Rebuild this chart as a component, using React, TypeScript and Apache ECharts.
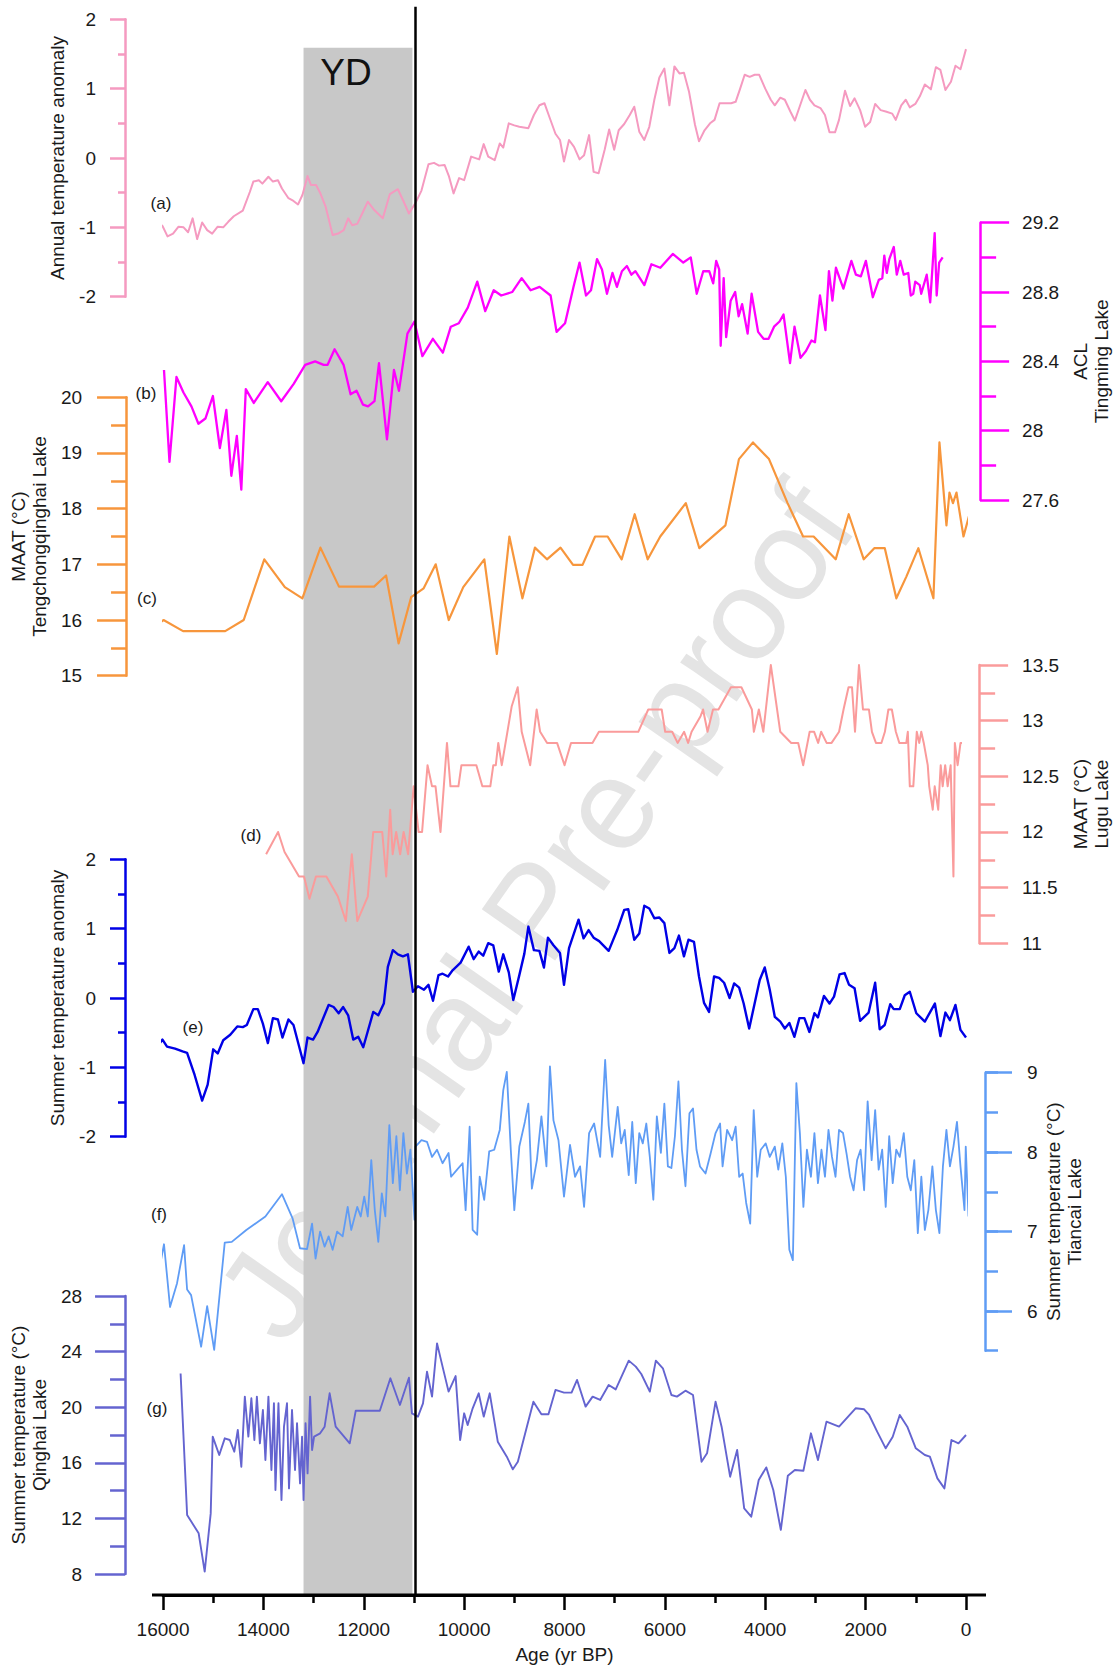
import React, { useEffect, useRef } from "react";
import * as echarts from "echarts";

const FONT = "'Liberation Sans', Arial, Helvetica, sans-serif";

// ---- data: [age yr BP, value] ----
const seriesA: number[][] = [[16120,-0.92],[16010,-0.98],[15910,-1.13],[15800,-1.09],[15690,-0.99],[15590,-1.00],[15500,-1.07],[15410,-0.87],[15320,-1.17],[15220,-0.93],[15120,-1.04],[15020,-1.09],[14910,-0.99],[14800,-1.00],[14700,-0.92],[14590,-0.84],[14410,-0.76],[14270,-0.49],[14200,-0.34],[14090,-0.32],[14020,-0.37],[13900,-0.27],[13810,-0.34],[13710,-0.32],[13630,-0.44],[13500,-0.58],[13400,-0.62],[13310,-0.67],[13220,-0.53],[13120,-0.26],[13050,-0.39],[12950,-0.39],[12870,-0.50],[12760,-0.70],[12620,-1.11],[12510,-1.09],[12400,-1.04],[12310,-0.87],[12230,-0.97],[12130,-0.95],[12030,-0.80],[11920,-0.63],[11790,-0.75],[11620,-0.87],[11480,-0.52],[11320,-0.45],[11210,-0.62],[11100,-0.80],[10970,-0.65],[10850,-0.47],[10710,-0.09],[10600,-0.07],[10500,-0.11],[10390,-0.10],[10300,-0.27],[10210,-0.51],[10100,-0.29],[10000,-0.32],[9860,0.02],[9700,-0.02],[9610,0.20],[9520,0.02],[9390,-0.03],[9290,0.21],[9220,0.15],[9110,0.50],[9000,0.47],[8900,0.45],[8720,0.43],[8610,0.62],[8500,0.76],[8400,0.79],[8290,0.57],[8180,0.35],[8090,0.26],[8010,-0.05],[7910,0.26],[7810,0.16],[7700,-0.02],[7610,0.04],[7510,0.33],[7420,-0.20],[7320,-0.22],[7200,0.12],[7110,0.41],[7010,0.12],[6920,0.40],[6810,0.49],[6700,0.62],[6610,0.74],[6510,0.38],[6410,0.26],[6310,0.45],[6210,0.84],[6110,1.16],[6010,1.29],[5910,0.76],[5810,1.32],[5710,1.22],[5620,1.23],[5520,0.96],[5400,0.48],[5320,0.24],[5210,0.40],[5100,0.50],[5010,0.55],[4910,0.79],[4780,0.79],[4680,0.79],[4590,0.81],[4500,1.00],[4410,1.20],[4310,1.17],[4210,1.20],[4120,1.20],[4000,1.00],[3890,0.84],[3810,0.76],[3700,0.87],[3610,0.84],[3500,0.67],[3410,0.54],[3310,0.75],[3200,0.98],[3110,0.84],[3020,0.76],[2900,0.72],[2810,0.62],[2720,0.37],[2610,0.37],[2530,0.55],[2410,0.97],[2310,0.75],[2220,0.86],[2110,0.69],[2010,0.45],[1910,0.52],[1810,0.78],[1700,0.69],[1600,0.67],[1470,0.64],[1400,0.55],[1290,0.76],[1200,0.84],[1120,0.73],[1010,0.78],[920,0.89],[820,1.06],[700,0.99],[600,1.31],[510,1.27],[410,0.98],[300,1.10],[210,1.33],[110,1.28],[0,1.57]];

const seriesB: number[][] = [[15980,28.35],[15870,27.82],[15730,28.31],[15590,28.22],[15430,28.14],[15290,28.04],[15150,28.07],[15000,28.20],[14860,27.90],[14730,28.12],[14630,27.74],[14520,27.97],[14430,27.66],[14340,28.24],[14180,28.16],[13900,28.28],[13630,28.17],[13380,28.27],[13150,28.38],[12950,28.40],[12780,28.38],[12700,28.38],[12560,28.47],[12380,28.38],[12240,28.21],[12120,28.23],[11990,28.15],[11890,28.14],[11760,28.17],[11670,28.39],[11510,27.95],[11370,28.35],[11270,28.23],[11100,28.56],[10960,28.63],[10800,28.43],[10590,28.53],[10390,28.45],[10230,28.60],[10070,28.62],[9890,28.71],[9700,28.86],[9540,28.69],[9370,28.81],[9220,28.78],[9000,28.80],[8810,28.88],[8630,28.81],[8450,28.83],[8230,28.78],[8110,28.57],[7940,28.62],[7770,28.83],[7650,28.97],[7520,28.78],[7420,28.81],[7300,28.99],[7200,28.93],[7100,28.79],[6990,28.91],[6900,28.83],[6800,28.92],[6700,28.95],[6610,28.90],[6530,28.92],[6350,28.84],[6210,28.96],[6030,28.94],[5780,29.02],[5570,28.97],[5420,29.00],[5300,28.79],[5170,28.92],[5050,28.92],[4970,28.85],[4910,28.98],[4850,28.93],[4820,28.49],[4760,28.88],[4710,28.54],[4620,28.75],[4530,28.80],[4460,28.66],[4390,28.73],[4280,28.56],[4200,28.79],[4070,28.57],[3960,28.53],[3860,28.53],[3750,28.60],[3640,28.63],[3560,28.67],[3430,28.39],[3340,28.60],[3220,28.42],[3110,28.46],[3000,28.52],[2930,28.51],[2830,28.78],[2720,28.58],[2650,28.92],[2580,28.75],[2510,28.94],[2360,28.82],[2200,28.98],[2110,28.90],[2010,28.89],[1910,28.98],[1770,28.77],[1650,28.87],[1580,28.88],[1540,29.01],[1490,28.91],[1440,28.99],[1350,29.06],[1290,28.90],[1220,28.98],[1150,28.90],[1060,28.91],[1010,28.78],[960,28.79],[920,28.86],[830,28.84],[800,28.79],[690,28.90],[620,28.74],[530,29.14],[490,28.78],[440,28.97],[370,29.00]];

const seriesC: number[][] = [[16310,15.79],[16010,16.00],[15620,15.80],[14780,15.80],[14410,16.00],[14000,17.09],[13590,16.59],[13240,16.39],[12880,17.30],[12510,16.60],[11810,16.60],[11570,16.80],[11320,15.58],[11070,16.41],[10820,16.57],[10580,17.00],[10320,16.00],[10030,16.59],[9610,17.09],[9360,15.39],[9110,17.50],[8850,16.39],[8600,17.30],[8360,17.09],[8090,17.30],[7840,16.99],[7650,16.99],[7400,17.50],[7150,17.50],[6870,17.09],[6610,17.90],[6350,17.09],[6100,17.50],[5590,18.10],[5320,17.29],[4800,17.70],[4530,18.89],[4250,19.19],[3930,18.89],[3560,18.10],[3250,17.50],[3040,17.50],[2600,17.09],[2340,17.90],[2040,17.09],[1830,17.29],[1620,17.29],[1390,16.39],[1190,16.78],[950,17.29],[650,16.39],[530,19.19],[390,17.70],[330,18.29],[260,18.10],[190,18.29],[50,17.50],[-70,17.90]];

const seriesD: number[][] = [[13930,11.80],[13690,12.00],[13560,11.82],[13270,11.60],[13170,11.60],[13060,11.40],[12930,11.60],[12720,11.60],[12490,11.42],[12330,11.20],[12210,11.80],[12100,11.20],[11890,11.42],[11780,12.00],[11600,12.00],[11520,11.60],[11440,12.20],[11390,11.80],[11320,12.00],[11240,11.80],[11170,12.00],[11080,11.80],[10970,12.41],[10870,12.00],[10800,12.00],[10690,12.60],[10600,12.41],[10530,12.41],[10430,12.00],[10300,12.80],[10230,12.41],[10070,12.41],[10010,12.60],[9710,12.60],[9590,12.41],[9430,12.41],[9370,12.60],[9320,12.60],[9270,12.80],[9200,12.60],[9000,13.13],[8880,13.30],[8800,12.90],[8630,12.60],[8500,13.10],[8430,12.90],[8290,12.80],[8090,12.80],[7940,12.60],[7810,12.80],[7380,12.80],[7250,12.90],[6460,12.90],[6260,13.10],[5990,13.10],[5920,12.90],[5780,12.90],[5670,12.80],[5540,12.90],[5460,12.80],[5390,12.90],[5210,13.04],[5160,13.10],[5070,12.90],[4960,13.10],[4850,13.10],[4600,13.30],[4390,13.30],[4180,13.10],[4140,12.90],[4040,13.10],[3950,12.90],[3800,13.50],[3610,12.90],[3390,12.80],[3250,12.80],[3150,12.60],[3020,12.90],[2930,12.90],[2850,12.80],[2790,12.90],[2680,12.80],[2580,12.80],[2430,12.90],[2340,13.10],[2240,13.30],[2170,13.30],[2110,12.90],[2030,13.50],[1950,13.10],[1830,13.10],[1770,12.90],[1690,12.80],[1580,12.80],[1510,12.90],[1440,13.10],[1370,13.10],[1290,12.90],[1220,12.80],[1080,12.80],[1050,12.90],[1010,12.41],[940,12.41],[870,12.90],[820,12.80],[780,12.90],[730,12.80],[650,12.60],[620,12.41],[550,12.20],[510,12.41],[440,12.20],[390,12.60],[350,12.41],[300,12.60],[250,12.41],[190,12.60],[134,11.60],[106,12.80],[50,12.60],[-8,12.80],[-58,12.80]];

const seriesE: number[][] = [[16120,-0.70],[16010,-0.60],[15920,-0.70],[15760,-0.73],[15610,-0.77],[15520,-0.79],[15370,-1.11],[15220,-1.48],[15110,-1.25],[15000,-0.74],[14910,-0.80],[14800,-0.61],[14660,-0.53],[14520,-0.41],[14410,-0.42],[14330,-0.39],[14200,-0.16],[14110,-0.16],[14010,-0.37],[13910,-0.65],[13810,-0.29],[13710,-0.31],[13620,-0.57],[13500,-0.31],[13400,-0.39],[13200,-0.94],[13120,-0.57],[13010,-0.60],[12920,-0.49],[12700,-0.10],[12600,-0.13],[12500,-0.22],[12410,-0.13],[12310,-0.25],[12210,-0.60],[12110,-0.56],[12010,-0.71],[11810,-0.20],[11710,-0.25],[11600,-0.08],[11520,0.45],[11420,0.69],[11320,0.63],[11220,0.60],[11120,0.63],[11020,0.09],[10920,0.17],[10800,0.12],[10710,0.19],[10620,-0.04],[10510,0.33],[10430,0.35],[10320,0.31],[10230,0.40],[10070,0.51],[9910,0.74],[9810,0.56],[9710,0.67],[9620,0.61],[9520,0.79],[9420,0.76],[9310,0.38],[9220,0.63],[9110,0.37],[9020,-0.03],[8900,0.33],[8800,0.64],[8720,1.03],[8610,0.69],[8500,0.68],[8410,0.44],[8330,0.87],[8220,0.76],[8090,0.65],[8010,0.19],[7910,0.72],[7720,1.13],[7620,0.86],[7520,0.98],[7420,0.87],[7310,0.82],[7120,0.68],[6950,0.98],[6810,1.27],[6730,1.28],[6610,0.84],[6510,0.93],[6410,1.33],[6310,1.29],[6210,1.15],[6110,1.16],[6010,1.08],[5910,0.65],[5810,0.72],[5720,0.90],[5620,0.60],[5530,0.84],[5420,0.81],[5320,0.31],[5220,-0.07],[5120,-0.20],[5020,0.31],[4920,0.29],[4820,0.22],[4710,0.00],[4620,0.21],[4520,0.15],[4430,-0.08],[4320,-0.44],[4110,0.26],[4010,0.44],[3910,0.12],[3810,-0.27],[3700,-0.34],[3610,-0.44],[3520,-0.36],[3420,-0.56],[3320,-0.29],[3220,-0.29],[3120,-0.49],[3020,-0.22],[2950,-0.28],[2830,0.03],[2720,-0.08],[2630,0.02],[2520,0.34],[2420,0.36],[2330,0.19],[2220,0.14],[2110,-0.33],[1940,-0.21],[1810,0.22],[1720,-0.45],[1620,-0.39],[1510,-0.09],[1440,-0.16],[1320,-0.16],[1220,0.04],[1120,0.09],[990,-0.22],[820,-0.34],[620,-0.08],[510,-0.55],[410,-0.21],[320,-0.32],[210,-0.10],[110,-0.46],[0,-0.57]];

const seriesF: number[][] = [[16090,6.48],[15980,6.84],[15860,6.05],[15720,6.35],[15580,6.83],[15520,6.27],[15440,6.20],[15240,5.55],[15120,6.06],[14980,5.51],[14770,6.86],[14630,6.87],[14340,7.02],[13960,7.19],[13630,7.47],[13420,7.17],[13270,6.79],[13130,6.78],[13030,7.10],[12960,6.66],[12870,7.00],[12780,6.81],[12700,6.94],[12620,6.77],[12530,7.00],[12420,6.94],[12320,7.31],[12250,7.02],[12130,7.31],[12060,7.19],[11990,7.44],[11920,7.19],[11850,7.90],[11780,7.27],[11710,6.87],[11640,7.48],[11570,7.19],[11490,8.34],[11420,7.61],[11350,8.20],[11280,7.52],[11210,8.24],[11140,7.73],[11070,8.03],[10990,7.15],[10970,8.07],[10850,8.15],[10740,8.13],[10640,7.94],[10540,8.03],[10430,7.86],[10310,7.99],[10260,7.69],[10140,7.78],[10030,7.86],[9970,7.27],[9890,8.32],[9830,7.02],[9740,6.96],[9690,7.69],[9600,7.40],[9500,8.01],[9400,8.03],[9290,8.28],[9220,8.78],[9150,9.01],[9070,8.03],[9000,7.27],[8900,8.07],[8790,8.38],[8720,8.61],[8650,7.54],[8550,7.90],[8460,8.45],[8360,7.82],[8290,9.08],[8220,8.40],[8120,8.15],[8010,7.44],[7890,8.09],[7790,7.69],[7690,7.82],[7610,7.31],[7510,8.24],[7410,8.36],[7290,7.94],[7190,9.16],[7120,8.34],[7050,7.94],[6940,8.57],[6870,8.11],[6800,8.28],[6720,7.71],[6650,8.38],[6580,7.61],[6510,8.24],[6440,8.11],[6370,8.36],[6300,7.94],[6230,7.40],[6160,8.45],[6080,7.99],[6010,8.61],[5940,7.82],[5870,7.80],[5800,8.20],[5730,8.89],[5660,8.03],[5590,7.57],[5510,8.49],[5440,8.55],[5370,8.03],[5300,7.82],[5190,7.73],[5090,7.98],[4990,8.24],[4900,8.36],[4850,7.82],[4760,8.28],[4660,8.15],[4590,8.32],[4520,7.69],[4450,7.73],[4380,7.36],[4300,7.10],[4230,8.53],[4160,7.69],[4090,8.03],[3990,8.11],[3910,7.94],[3810,8.07],[3740,7.78],[3660,8.11],[3590,7.69],[3520,6.77],[3450,6.64],[3380,8.87],[3310,8.24],[3240,7.31],[3170,8.03],[3090,7.69],[3020,8.24],[2950,7.61],[2880,8.03],[2810,7.69],[2740,8.28],[2670,7.94],[2600,7.69],[2530,8.28],[2450,8.24],[2380,7.98],[2310,7.69],[2240,7.52],[2170,7.90],[2100,8.03],[2030,7.52],[1960,8.64],[1880,7.90],[1810,8.53],[1740,7.78],[1670,8.03],[1600,7.31],[1530,8.20],[1460,7.61],[1390,8.03],[1320,7.94],[1240,8.24],[1170,7.69],[1100,7.52],[1030,7.90],[960,6.98],[890,7.69],[820,7.02],[750,7.27],[670,7.82],[600,7.27],[530,6.98],[460,7.82],[390,8.28],[320,7.82],[250,8.07],[180,8.38],[110,7.82],[30,7.27],[5,8.07],[-50,7.19]];

const seriesG: number[][] = [[15650,22.43],[15520,12.24],[15290,10.93],[15170,8.17],[15050,12.36],[15010,17.88],[14880,16.56],[14770,17.76],[14670,17.64],[14580,16.80],[14510,18.36],[14440,15.72],[14370,20.76],[14300,17.88],[14240,20.64],[14180,17.64],[14130,20.76],[14070,17.40],[14010,19.80],[13960,16.20],[13900,20.76],[13840,15.48],[13790,20.28],[13760,14.04],[13700,20.28],[13640,13.32],[13590,18.60],[13530,20.28],[13490,14.16],[13430,19.80],[13370,15.48],[13330,18.84],[13270,14.52],[13230,17.88],[13200,13.32],[13160,18.84],[13120,15.24],[13070,20.76],[13030,16.92],[12990,17.88],[12870,18.12],[12780,18.60],[12680,21.00],[12560,18.60],[12280,17.40],[12160,19.75],[11680,19.75],[11470,22.08],[11280,20.16],[11100,22.12],[11040,19.56],[10920,19.32],[10820,20.28],[10740,22.56],[10640,20.76],[10540,24.59],[10430,22.92],[10310,21.12],[10170,22.24],[10080,17.64],[10000,19.56],[9930,18.72],[9830,19.92],[9710,21.00],[9610,19.32],[9490,21.00],[9330,17.52],[9150,16.44],[9030,15.53],[8930,16.08],[8750,18.60],[8620,20.40],[8460,19.49],[8320,19.49],[8180,21.24],[8010,21.05],[7860,21.05],[7750,21.96],[7580,20.04],[7440,20.76],[7290,20.52],[7120,21.60],[6980,21.28],[6720,23.35],[6580,22.92],[6470,22.39],[6300,21.12],[6180,23.35],[6040,22.80],[5870,20.88],[5760,20.76],[5590,21.19],[5440,20.88],[5270,16.08],[5160,16.68],[4990,20.40],[4870,18.60],[4700,15.00],[4560,16.92],[4420,12.72],[4280,12.12],[4130,14.76],[3980,15.67],[3840,14.04],[3690,11.17],[3550,15.07],[3410,15.48],[3240,15.43],[3090,18.12],[2950,16.20],[2780,18.96],[2530,18.60],[2200,19.92],[2030,19.85],[1930,19.44],[1770,18.24],[1600,17.04],[1460,17.88],[1320,19.44],[1170,18.60],[1000,17.04],[820,16.56],[720,16.44],[570,14.88],[430,14.16],[290,17.64],[150,17.40],[0,18.00]];

// ---- axes ----
const ageRange = [0, 16000];
const ageStep = 2000;
const ydPeriod = [13200, 11030];
const boundaryAge = 10970;
const fLabelRange = [6, 9];

const COLORS = {
  a: "#f59ac0",
  b: "#ff00ff",
  c: "#f7963c",
  d: "#fa9b9b",
  e: "#0000e6",
  f: "#5f9cf5",
  g: "#6464d0",
};

const GRID_L = 163;
const GRID_R = 154;
const gridPos = [
  { top: 19.3, height: 277.4 },
  { top: 222.7, height: 277.3 },
  { top: 397.3, height: 278.4 },
  { top: 665, height: 278.3 },
  { top: 859.3, height: 277.4 },
  { top: 1072.7, height: 278 },
  { top: 1296, height: 278 },
  { top: 47.7, height: 1547.3 },
  { top: 6.7, height: 1588.3 },
  { top: 1072.7, height: 238.3 },
];

function yAx(grid: number, position: string, color: string, min: number, max: number, interval: number,
  majorLen: number, minorLen: number, margin: number, name: string, nameGap: number, extra: any = {}) {
  return {
    type: "value",
    gridIndex: grid,
    position,
    offset: position === "left" ? 38 : 19,
    min, max, interval,
    axisLine: { show: true, onZero: false, lineStyle: { color, width: 2.5 } },
    axisTick: { show: true, length: majorLen, lineStyle: { color, width: 2.5 } },
    minorTick: { show: minorLen > 0, splitNumber: 2, length: minorLen, lineStyle: { color, width: 2.5 } },
    splitLine: { show: false },
    minorSplitLine: { show: false },
    axisLabel: { color: "#1a1a1a", fontSize: 19, margin, fontFamily: FONT },
    name,
    nameLocation: "middle",
    nameGap,
    nameRotate: 90,
    nameTextStyle: { color: "#1a1a1a", fontSize: 19, lineHeight: 21, fontFamily: FONT },
    ...extra,
  };
}

function lineSeries(idx: number, yIdx: number, data: number[][], color: string, width: number) {
  return {
    type: "line",
    xAxisIndex: idx,
    yAxisIndex: yIdx,
    data,
    symbol: "none",
    showSymbol: false,
    clip: false,
    silent: true,
    z: 3,
    lineStyle: { color, width, join: "round" },
  };
}

export default function App() {
  const ref = useRef<HTMLDivElement>(null);
  useEffect(() => {
    document.body.style.margin = "0";
    document.body.style.overflow = "hidden";
    const chart = echarts.init(ref.current!, null, { renderer: "svg" });

    const xAxes = gridPos.map((_, i) => {
      if (i === 6) {
        return {
          type: "value", gridIndex: i, min: ageRange[0], max: ageRange[1], inverse: true,
          interval: ageStep, position: "bottom", offset: 21,
          axisLine: { show: true, onZero: false, lineStyle: { color: "#000", width: 3 } },
          axisTick: { show: true, length: 15, lineStyle: { color: "#000", width: 2.5 } },
          minorTick: { show: true, splitNumber: 2, length: 8, lineStyle: { color: "#000", width: 2.5 } },
          splitLine: { show: false },
          axisLabel: { color: "#1a1a1a", fontSize: 19, margin: 25, fontFamily: FONT, formatter: (v: number) => String(v) },
          name: "Age (yr BP)", nameLocation: "middle", nameGap: 50,
          nameTextStyle: { color: "#1a1a1a", fontSize: 19, fontFamily: FONT },
        };
      }
      return { type: "value", gridIndex: i, min: ageRange[0], max: ageRange[1], inverse: true, show: false };
    });

    const yAxes: any[] = [
      yAx(0, "left", COLORS.a, -2, 2, 1, 15, 7, 29, "Annual temperature anomaly", 52),
      yAx(1, "right", COLORS.b, 27.6, 29.2, 0.4, 29, 16, 42, "ACL\nTingming Lake", 87),
      yAx(2, "left", COLORS.c, 15, 20, 1, 29, 15, 44, "MAAT (°C)\nTengchongqinghai Lake", 70),
      yAx(3, "right", COLORS.d, 11, 13.5, 0.5, 29, 16, 43, "MAAT (°C)\nLugu Lake", 89),
      yAx(4, "left", COLORS.e, -2, 2, 1, 15, 7, 29, "Summer temperature anomaly", 52),
      yAx(5, "right", COLORS.f, 5.5, 9, 0.5, 13, 0, 42, "Summer temperature (°C)\nTiancai Lake", 58, {
        axisLabel: { show: false },
      }),
      yAx(6, "left", COLORS.g, 8, 28, 4, 30, 15, 43, "Summer temperature (°C)\nQinghai Lake", 72),
      { type: "value", gridIndex: 7, min: 0, max: 1, show: false },
      { type: "value", gridIndex: 8, min: 0, max: 1, show: false },
      yAx(9, "right", COLORS.f, fLabelRange[0], fLabelRange[1], 1, 27, 0, 42, "", 0, {
        axisLine: { show: false, onZero: false },
      }),
    ];

    const option: any = {
      animation: false,
      backgroundColor: "#ffffff",
      textStyle: { fontFamily: FONT },
      grid: gridPos.map((g) => ({ left: GRID_L, right: GRID_R, top: g.top, height: g.height, containLabel: false })),
      xAxis: xAxes,
      yAxis: yAxes,
      series: [
        {
          type: "line", xAxisIndex: 7, yAxisIndex: 7, data: [[ageRange[1], 0.5], [ageRange[0], 0.5]],
          symbol: "none", lineStyle: { opacity: 0, width: 0 }, silent: true, z: 0,
          markArea: {
            silent: true,
            itemStyle: { color: "#c8c8c8" },
            data: [[{ xAxis: ydPeriod[0] }, { xAxis: ydPeriod[1] }]],
          },
        },
        {
          type: "line", xAxisIndex: 8, yAxisIndex: 8, data: [[ageRange[1], 0.5], [ageRange[0], 0.5]],
          symbol: "none", lineStyle: { opacity: 0, width: 0 }, silent: true, z: 6,
          markLine: {
            silent: true, symbol: ["none", "none"], label: { show: false },
            lineStyle: { color: "#000", width: 2.5, type: "solid" },
            data: [{ xAxis: boundaryAge }],
          },
        },
        lineSeries(0, 0, seriesA, COLORS.a, 2),
        lineSeries(1, 1, seriesB, COLORS.b, 2.3),
        lineSeries(2, 2, seriesC, COLORS.c, 2.2),
        lineSeries(3, 3, seriesD, COLORS.d, 2),
        lineSeries(4, 4, seriesE, COLORS.e, 2.4),
        lineSeries(5, 5, seriesF, COLORS.f, 1.8),
        lineSeries(6, 6, seriesG, COLORS.g, 1.9),
      ],
      graphic: [
        {
          type: "text", z: 1, x: 535, y: 911, rotation: (55 * Math.PI) / 180, silent: true,
          style: { text: "Journal Pre-proof", fontSize: 130, fontFamily: FONT, fill: "#e4e4e4", align: "center", verticalAlign: "middle" },
        },
        {
          type: "line", z: 2, silent: true,
          shape: { x1: 152, y1: 1595, x2: 986, y2: 1595 },
          style: { stroke: "#000", lineWidth: 3 },
        },
        { type: "text", z: 2, x: 346, y: 72, style: { text: "YD", fontSize: 37, fontFamily: FONT, fill: "#111", align: "center", verticalAlign: "middle" } },
        ...[
          ["(a)", 161, 203], ["(b)", 146, 393], ["(c)", 147, 598], ["(d)", 251, 835],
          ["(e)", 193, 1027], ["(f)", 159, 1214], ["(g)", 157, 1408],
        ].map(([t, x, y]) => ({
          type: "text", z: 2, x, y,
          style: { text: t, fontSize: 17, fontFamily: FONT, fill: "#1a1a1a", align: "center", verticalAlign: "middle" },
        })),
      ],
    };
    chart.setOption(option);
    return () => chart.dispose();
  }, []);
  return <div ref={ref} style={{ width: 1120, height: 1671 }} />;
}
